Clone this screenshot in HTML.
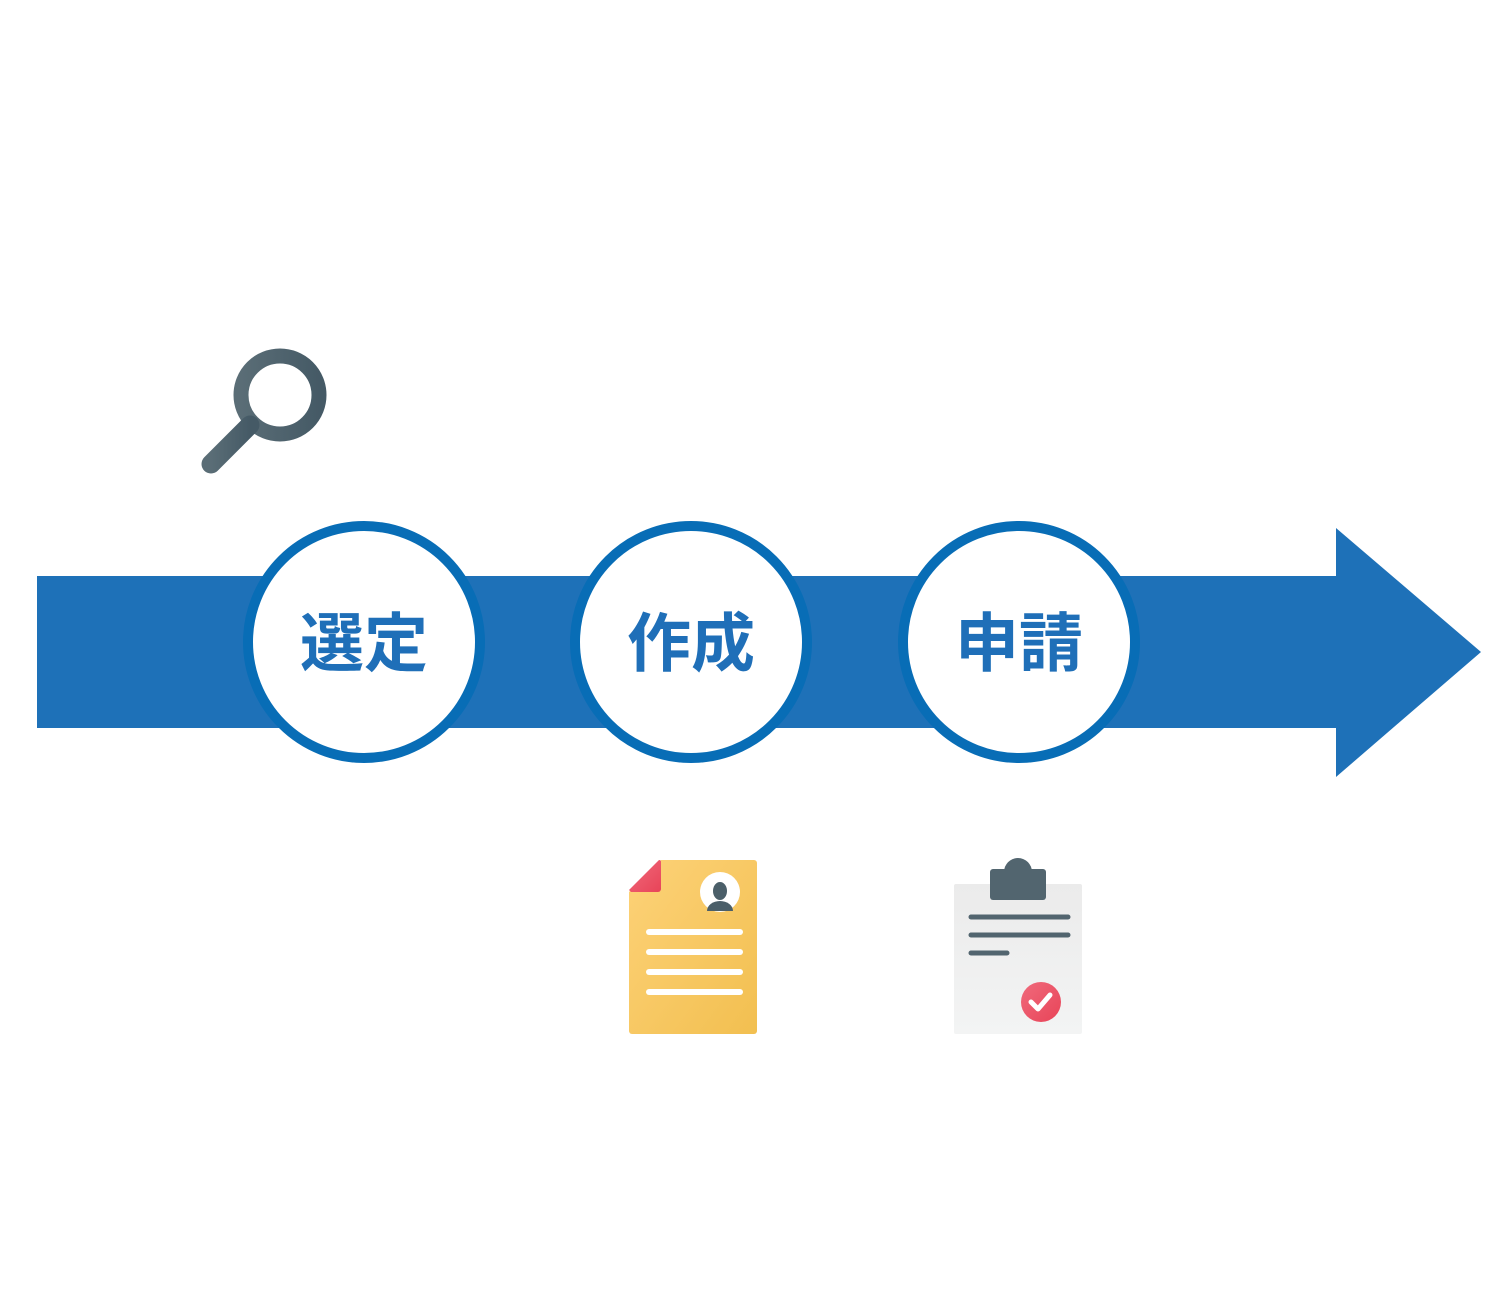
<!DOCTYPE html>
<html><head><meta charset="utf-8"><style>html,body{margin:0;padding:0;background:#fff;}svg{display:block}</style></head>
<body>
<svg width="1500" height="1300" viewBox="0 0 1500 1300" xmlns="http://www.w3.org/2000/svg">
<defs>
<linearGradient id="mg" x1="0" x2="1"><stop offset="0" stop-color="#5a6d76"/><stop offset="1" stop-color="#455a66"/></linearGradient>
<linearGradient id="yg" x1="0" y1="0" x2="1" y2="1"><stop offset="0" stop-color="#fdd278"/><stop offset="1" stop-color="#f2bf50"/></linearGradient>
<linearGradient id="rg" x1="0" y1="0" x2="1" y2="1"><stop offset="0" stop-color="#f06a7c"/><stop offset="1" stop-color="#e84458"/></linearGradient>
<linearGradient id="gg" x1="0" y1="0" x2="0" y2="1"><stop offset="0" stop-color="#ebebeb"/><stop offset="1" stop-color="#f3f4f4"/></linearGradient>
</defs>
<!-- magnifier -->
<circle cx="280" cy="395" r="39" fill="none" stroke="url(#mg)" stroke-width="15"/>
<line x1="250" y1="425" x2="211" y2="464" stroke="url(#mg)" stroke-width="19" stroke-linecap="round"/>
<!-- arrow -->
<polygon points="37,576 1336,576 1336,528 1481,652 1336,777 1336,728 37,728" fill="#1e71b8"/>
<g fill="#fff" stroke="#086db6" stroke-width="10">
<circle cx="364" cy="642" r="116"/>
<circle cx="691" cy="642" r="116"/>
<circle cx="1019" cy="642" r="116"/>
</g>
<g font-family="'Liberation Sans','Noto Sans CJK JP',sans-serif" font-weight="bold" font-size="64" fill="#1f6fb8" text-anchor="middle">
<text x="364" y="666">選定</text>
<text x="691" y="666">作成</text>
<text x="1019" y="666">申請</text>
</g>
<!-- resume doc -->
<path d="M661,860 H754 a3,3 0 0 1 3,3 V1031 a3,3 0 0 1 -3,3 H632 a3,3 0 0 1 -3,-3 V892 Z" fill="url(#yg)"/>
<path d="M629,890 L659,860 a2,2 0 0 1 2,2 V889 a3,3 0 0 1 -3,3 H631 Z" fill="url(#rg)"/>
<circle cx="720" cy="892" r="20" fill="#fff"/>
<ellipse cx="720" cy="891" rx="7" ry="9" fill="#4b5f69"/>
<path d="M707,911 a13,10 0 0 1 26,0 Z" fill="#4b5f69"/>
<g stroke="#fff" stroke-width="6" stroke-linecap="round">
<line x1="649" y1="932" x2="740" y2="932"/>
<line x1="649" y1="952" x2="740" y2="952"/>
<line x1="649" y1="972" x2="740" y2="972"/>
<line x1="649" y1="992" x2="740" y2="992"/>
</g>
<!-- clipboard -->
<rect x="954" y="884" width="128" height="150" rx="2" fill="url(#gg)"/>
<circle cx="1018" cy="872" r="14" fill="#52656f"/>
<rect x="990" y="869" width="56" height="31" rx="3" fill="#52656f"/>
<g stroke="#52656f" stroke-width="5" stroke-linecap="round">
<line x1="971" y1="917" x2="1068" y2="917"/>
<line x1="971" y1="935" x2="1068" y2="935"/>
<line x1="971" y1="953" x2="1007" y2="953"/>
</g>
<circle cx="1041" cy="1002" r="20" fill="url(#rg)"/>
<path d="M1031,1002 l7,7 l12,-14" fill="none" stroke="#fff" stroke-width="5" stroke-linecap="round" stroke-linejoin="round"/>
</svg>
</body></html>
